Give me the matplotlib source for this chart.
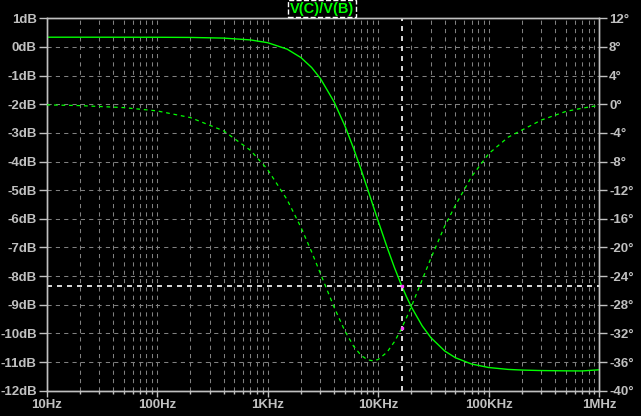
import numpy as np
import matplotlib
matplotlib.use("Agg")
import matplotlib.pyplot as plt
from matplotlib.ticker import FixedLocator, LogLocator, NullFormatter

freq = [10, 20, 50, 100, 200, 400, 700, 1000, 1500, 2000, 2500, 3000, 4000,
        5000, 6000, 7000, 8000, 9000, 10000, 12000, 14000, 16000, 18000,
        20000, 25000, 30000, 40000, 50000, 70000, 100000, 150000, 200000,
        300000, 500000, 700000, 1000000]
mag_db = [0.34, 0.34, 0.339, 0.338, 0.332, 0.309, 0.245, 0.149, -0.076, -0.37,
          -0.717, -1.10, -1.923, -2.755, -3.548, -4.281, -4.946, -5.544, -6.078,
          -6.977, -7.691, -8.259, -8.714, -9.082, -9.737, -10.15, -10.614,
          -10.85, -11.069, -11.191, -11.257, -11.28, -11.297, -11.307, -11.31,
          -11.27]
phase_deg = [-0.09, -0.19, -0.47, -0.93, -1.86, -3.71, -6.44, -9.11, -13.32,
             -17.17, -20.61, -23.62, -28.37, -31.66, -33.8, -35.06, -35.68,
             -35.83, -35.64, -34.64, -33.18, -31.53, -29.84, -28.21, -24.52,
             -21.49, -17.01, -14.1, -10.1, -6.9, -4.6, -3.6, -2.2, -1.0, -0.55,
             -0.15]

cursor_f = 16500
cursor_db = -8.33
cursor_ph = -31.2

db_ticks = list(range(1, -13, -1))
db_labels = [f"{d}dB" for d in db_ticks]
deg_ticks = list(range(12, -41, -4))
deg_labels = [f"{d}\u00b0" for d in deg_ticks]
f_ticks = [10, 100, 1000, 10000, 100000, 1000000]
f_labels = ["10Hz", "100Hz", "1KHz", "10KHz", "100KHz", "1MHz"]

green = "#00ff00"
grey = "#c0c0c0"
gridc = "#808080"

plt.rcParams["font.family"] = "Liberation Sans"
plt.rcParams["font.weight"] = "bold"
plt.rcParams["font.size"] = 9.5

fig = plt.figure(figsize=(6.41, 4.16), dpi=100, facecolor="black")
ax = fig.add_axes([46.5 / 641, 1 - 390.7 / 416, (599.3 - 46.5) / 641, (390.7 - 18.3) / 416])
ax.set_facecolor("black")
ax2 = ax.twinx()

ax.set_xscale("log")
ax.set_xlim(10, 1e6)
ax.set_ylim(-12, 1)
ax2.set_ylim(-40, 12)

ax.xaxis.set_major_locator(FixedLocator(f_ticks))
ax.set_xticklabels(f_labels)
ax.xaxis.set_minor_locator(LogLocator(base=10, subs=np.arange(2, 10)))
ax.xaxis.set_minor_formatter(NullFormatter())
ax.set_yticks(db_ticks)
ax.set_yticklabels(db_labels)
ax2.set_yticks(deg_ticks)
ax2.set_yticklabels(deg_labels)

ax.grid(True, which="both", axis="x", color=gridc, linestyle=(0, (4, 4)), linewidth=0.75)
ax.grid(True, which="major", axis="y", color=gridc, linestyle=(0, (4, 4)), linewidth=0.75)

for a in (ax, ax2):
    for s in a.spines.values():
        s.set_color(grey)
        s.set_linewidth(1)
    a.tick_params(colors=grey, labelcolor=grey, which="both", width=1)
ax.tick_params(axis="y", length=6, pad=1)
ax2.tick_params(axis="y", length=6, pad=1)
ax.tick_params(axis="x", which="major", length=4, pad=2)
ax.tick_params(axis="x", which="minor", length=2.5)

ax.plot(freq, mag_db, color=green, linewidth=1.0, zorder=5)
ax2.plot(freq, phase_deg, color=green, linewidth=0.9, linestyle=(0, (3, 3)), zorder=5)

# cursor
ax.axvline(cursor_f, color="white", linewidth=1.2, linestyle=(0, (3, 3)), zorder=6)
ax.axhline(cursor_db, color="white", linewidth=1.2, linestyle=(0, (3, 3)), zorder=6)
ax.plot([cursor_f], [cursor_db], marker="s", markersize=1.5, color="#ff40ff", zorder=7)
ax2.plot([cursor_f], [cursor_ph], marker="s", markersize=1.5, color="#ff40ff", zorder=7)

fig.text(0.502, 0.979, "V(C)/V(B)", color=green, ha="center", va="center",
         fontsize=10.5, fontweight="bold",
         bbox=dict(facecolor="black", edgecolor="white", linestyle="--",
                   linewidth=1, boxstyle="square,pad=0.12"))

plt.savefig("out.png", dpi=100, facecolor="black")
